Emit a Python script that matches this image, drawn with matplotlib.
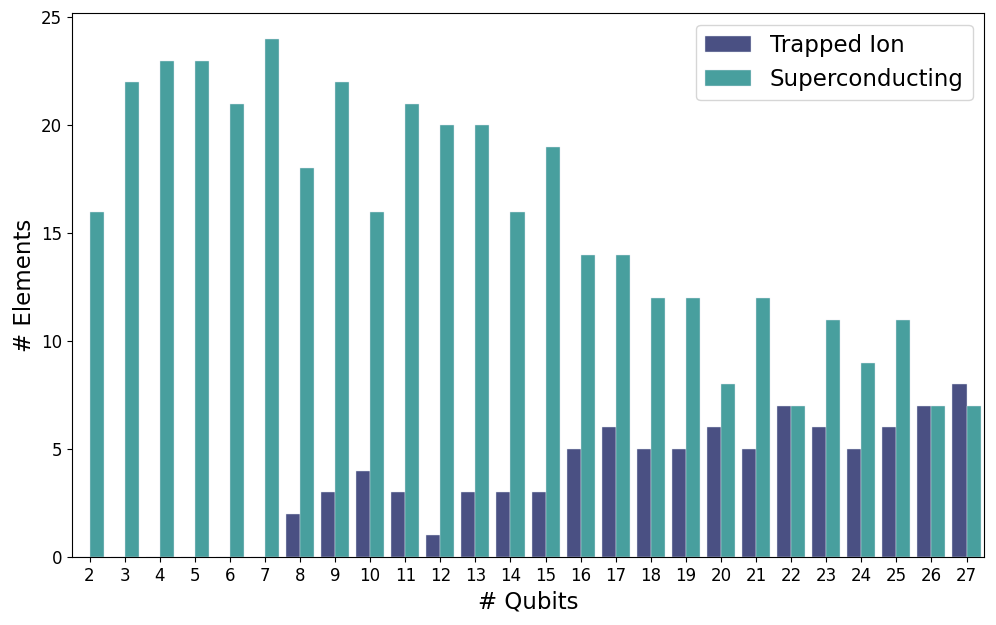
import numpy as np
import matplotlib
matplotlib.use("Agg")
from matplotlib import pyplot as plt

qubits = list(range(2, 28))
trapped_ion = [0, 0, 0, 0, 0, 0, 2, 3, 4, 3, 1, 3, 3, 3, 5, 6, 5, 5, 6, 5, 7, 6, 5, 6, 7, 8]
superconducting = [16, 22, 23, 23, 21, 24, 18, 22, 16, 21, 20, 20, 16, 19, 14, 14, 12, 12, 8, 12, 7, 11, 9, 11, 7, 7]
labels = ["Trapped Ion", "Superconducting"]
colors = ["#4a5083", "#489f9e"]

fig = plt.figure(figsize=(9.96, 6.25), dpi=100)
ax = fig.add_axes([0.0723, 0.109, 0.9157, 0.870])

x = np.arange(len(qubits))
w = 0.4
ax.bar(x - w / 2, trapped_ion, w, color=colors[0], edgecolor="#dfe6ee", linewidth=0.3, label=labels[0])
ax.bar(x + w / 2, superconducting, w, color=colors[1], edgecolor="#dfe6ee", linewidth=0.3, label=labels[1])

ax.set_xticks(x)
ax.set_xticklabels([str(q) for q in qubits], fontsize=12)
ax.tick_params(axis="y", labelsize=12)
ax.set_xlim(-0.5, len(qubits) - 0.5)
ax.set_ylim(0, 25.2)
ax.set_xlabel("# Qubits", fontsize=16.5)
ax.set_ylabel("# Elements", fontsize=16.5)
ax.legend(fontsize=16.5, loc="upper right")

fig.savefig("out.png", dpi=100)
